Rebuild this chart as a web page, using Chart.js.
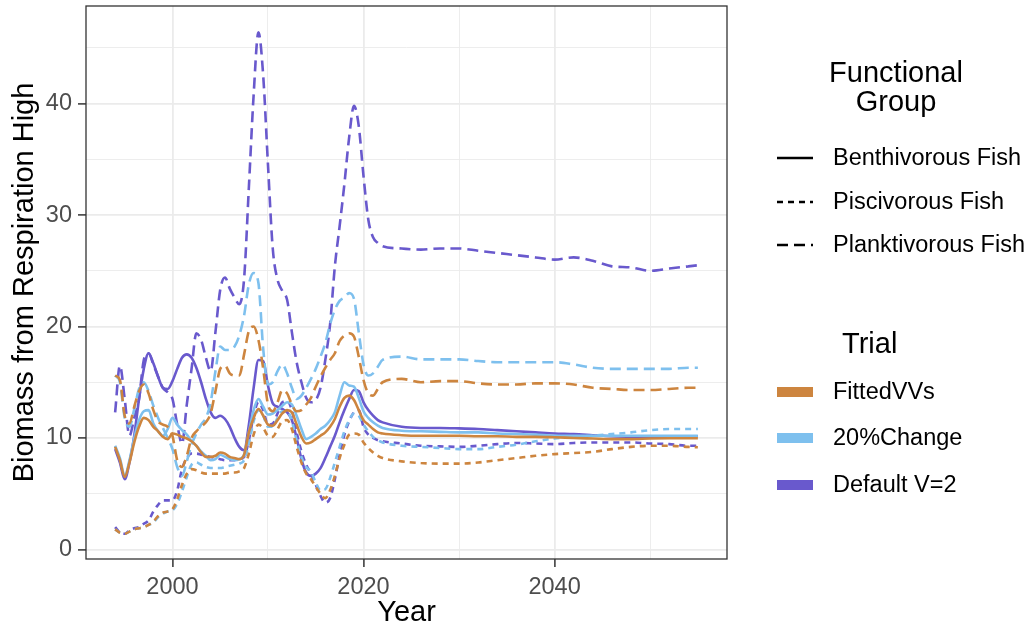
<!DOCTYPE html>
<html>
<head>
<meta charset="utf-8">
<script src="https://cdn.jsdelivr.net/npm/chart.js@4/dist/chart.umd.min.js"></script>
<style>
  html, body { margin: 0; padding: 0; background: #fff; }
  #wrap { width: 1030px; height: 630px; }
</style>
</head>
<body>
<div id="wrap"><canvas id="chart" width="1030" height="630"></canvas></div>
<script>
// time axis: half-year steps to 2022, then every two years
const years = [
  1994, 1994.5, 1995, 1995.5, 1996, 1996.5, 1997, 1997.5, 1998, 1998.5,
  1999, 1999.5, 2000, 2000.5, 2001, 2001.5, 2002, 2002.5, 2003, 2003.5,
  2004, 2004.5, 2005, 2005.5, 2006, 2006.5, 2007, 2007.5, 2008, 2008.5,
  2009, 2009.5, 2010, 2010.5, 2011, 2011.5, 2012, 2012.5, 2013, 2013.5,
  2014, 2014.5, 2015, 2015.5, 2016, 2016.5, 2017, 2017.5, 2018, 2018.5,
  2019, 2019.5, 2020, 2020.5, 2021, 2021.5, 2022,
  2024, 2026, 2028, 2030, 2032, 2034, 2036, 2038, 2040, 2042, 2044, 2046, 2048, 2050, 2052, 2054, 2055
];

// FittedVVs
const fittedBenth = [
  9.2, 8.0, 6.5, 7.8, 9.6, 11.0, 11.8, 11.6, 11.0, 10.6,
  10.1, 9.9, 10.4, 10.3, 10.1, 9.95, 9.7, 9.3, 8.7, 8.3,
  8.3, 8.4, 8.7, 8.6, 8.3, 8.2, 8.1, 8.5, 10.5, 11.8,
  12.6, 12.0, 11.2, 11.1, 11.6, 12.2, 12.5, 12.3, 11.2, 10.1,
  9.5, 9.6, 9.9, 10.2, 10.5, 11.0, 11.7, 12.8, 13.6, 13.8,
  13.4, 12.5, 11.6, 11.2, 10.8, 10.5, 10.4,
  10.25, 10.2, 10.2, 10.2, 10.15, 10.15, 10.1, 10.1, 10.06, 10.0, 9.95, 9.9, 9.9, 9.95, 9.97, 9.97, 9.97
];
const fittedPisc = [
  1.8, 1.5, 1.4, 1.6, 1.8, 1.9, 2.0, 2.2, 2.5, 3.0,
  3.3, 3.4, 3.6, 4.5, 5.8, 6.8, 7.2, 7.1, 6.9, 6.8,
  6.8, 6.8, 6.8, 6.8, 6.9, 6.9, 7.0, 7.3, 8.6, 10.3,
  11.2, 10.9, 10.2, 10.1, 10.8, 11.5, 11.6, 10.8, 9.2, 7.8,
  6.8, 6.3, 5.6, 5.0, 4.6, 5.3, 6.6, 8.2, 9.4, 10.3,
  10.4, 10.3, 9.6, 9.1, 8.7, 8.4, 8.2,
  7.9, 7.75, 7.7, 7.7, 7.8, 8.0, 8.2, 8.4, 8.55, 8.65, 8.75, 9.0, 9.2, 9.3, 9.3, 9.2, 9.17
];
const fittedPlank = [
  15.6, 15.2, 12.0, 11.3, 12.8, 14.2, 14.8, 14.0, 12.5, 11.5,
  11.2, 11.0, 10.2, 8.0, 7.4, 8.4, 10.0, 10.6, 11.0, 11.4,
  12.2, 14.2, 16.2, 16.5, 15.8, 15.6, 15.6, 17.5, 19.6, 20.0,
  18.8, 16.2, 13.0, 12.4, 13.2, 14.3, 14.0, 13.0, 12.4, 12.5,
  13.0, 13.6, 14.6, 15.5, 16.3, 17.0, 17.6, 18.7, 19.2, 19.4,
  19.1, 17.3, 15.2, 14.0, 13.8, 14.4, 15.0,
  15.3, 15.0, 15.1, 15.1, 14.9, 14.8, 14.8, 14.9, 14.9, 14.8, 14.5, 14.4, 14.3, 14.3, 14.4, 14.5, 14.5
];

// 20%Change
const changeBenth = [
  9.3, 8.2, 6.6, 8.0, 10.0, 11.6, 12.4, 12.5, 11.3, 10.6,
  10.2, 10.8, 11.8, 11.2, 10.7, 10.3, 9.7, 9.3, 8.8, 8.4,
  8.0, 8.1, 8.5, 8.3, 8.1, 8.0, 8.1, 8.5, 10.5, 12.5,
  13.5, 12.8, 12.1, 12.2, 12.5, 12.9, 13.2, 13.0, 12.0, 10.8,
  9.9, 10.1, 10.4, 10.8, 11.1, 11.6, 12.3, 13.8, 15.0, 14.7,
  14.6, 13.6, 12.4, 11.8, 11.4, 11.1, 10.9,
  10.65, 10.6, 10.55, 10.5, 10.5, 10.4, 10.35, 10.3, 10.2, 10.2, 10.2, 10.2, 10.2, 10.2, 10.2, 10.2, 10.2
];
const changePisc = [
  1.8, 1.5, 1.4, 1.6, 1.8, 1.9, 2.0, 2.2, 2.4, 2.9,
  3.2, 3.4, 3.5, 4.1, 5.2, 6.5, 7.6, 7.8, 7.6, 7.4,
  7.3, 7.3, 7.3, 7.4, 7.5, 7.6, 7.7, 8.0, 9.5, 11.5,
  12.5, 12.0, 11.0, 11.0, 11.8, 12.4, 12.4, 11.5, 9.8, 8.3,
  7.4, 7.0, 6.0, 5.3, 5.4, 6.4, 7.8, 9.2, 10.6, 11.6,
  12.2, 12.0, 11.2, 10.6, 10.1, 9.8, 9.6,
  9.3, 9.2, 9.1, 9.0, 9.0, 9.2, 9.4, 9.7, 9.95, 10.1, 10.2, 10.35, 10.5, 10.7, 10.8, 10.8, 10.8
];
const changePlank = [
  15.6, 15.0, 11.8, 11.0, 12.6, 14.4, 15.0, 14.2, 12.9, 11.8,
  10.9, 10.0, 9.0, 7.4, 6.6, 7.9, 9.4, 10.4, 11.2, 11.8,
  13.2, 16.0, 18.2, 17.9, 17.9, 18.2, 19.2, 21.0, 23.8, 24.8,
  23.9, 18.0, 14.8, 15.0, 16.0, 16.6, 15.8, 14.5, 13.5, 13.8,
  14.5, 15.3, 16.2, 17.3, 18.5, 20.2, 21.5, 22.3, 22.6, 23.0,
  22.5, 19.5, 16.6, 15.6, 15.8, 16.4, 17.0,
  17.3, 17.05, 17.05, 17.05, 16.9, 16.8, 16.8, 16.8, 16.8, 16.6, 16.3, 16.2, 16.2, 16.2, 16.2, 16.3, 16.3
];

// Default V=2
const defaultBenth = [
  9.0, 7.8, 6.3, 7.8, 10.2, 13.5, 16.2, 17.6, 16.7, 15.5,
  14.5, 14.4, 15.1, 16.2, 17.2, 17.5, 17.2, 16.3, 15.0, 13.5,
  12.3, 11.8, 12.0, 11.7, 11.0, 10.0, 9.2, 8.9, 11.2, 14.5,
  17.0, 16.9, 14.7, 13.1, 12.8, 12.6, 12.3, 11.6, 10.0, 8.1,
  6.9, 6.6, 6.8, 7.3, 8.2, 9.2, 10.2, 11.4, 12.5, 13.5,
  14.3, 14.2, 13.2, 12.5, 12.0, 11.6, 11.4,
  11.0, 10.9, 10.9, 10.86, 10.8, 10.7, 10.6, 10.5, 10.4, 10.35, 10.25, 10.15, 10.1, 10.06, 10.1, 10.15, 10.15
];
const defaultPisc = [
  2.0, 1.5, 1.4, 1.7, 1.9, 2.0, 2.3, 2.6, 3.4, 4.0,
  4.4, 4.4, 4.4, 5.3, 7.2, 8.2, 8.6, 8.6, 8.5, 8.4,
  8.3, 8.2, 8.1, 8.0, 8.0, 8.0, 8.1, 8.3, 9.8, 12.0,
  13.2, 12.5, 11.2, 11.3, 12.2, 13.2, 13.3, 12.5, 10.5, 8.8,
  7.6, 6.8, 5.8, 4.8, 4.2, 4.6, 6.3, 8.5, 10.3, 11.5,
  12.3, 12.5, 11.0, 10.3, 10.0, 9.8, 9.7,
  9.5, 9.3, 9.25, 9.2, 9.3, 9.45, 9.55, 9.5, 9.45, 9.55, 9.6, 9.6, 9.6, 9.5, 9.45, 9.3, 9.3
];
const defaultPlank = [
  12.3, 16.5, 13.5, 10.2, 11.8, 13.5, 17.0, 17.6, 16.6, 15.5,
  14.5, 14.1, 13.5, 11.2, 9.5, 13.0, 16.2, 19.4, 18.8, 17.2,
  16.0, 19.5, 23.3, 24.4, 23.4, 22.6, 22.0, 24.3, 32.5, 40.8,
  46.4, 42.5, 34.5, 27.0, 24.2, 23.2, 22.4, 19.5, 16.8, 15.0,
  13.6, 13.2, 13.4, 14.5, 17.0, 20.2, 25.4, 29.0, 32.8, 37.0,
  39.8, 38.0, 33.5, 29.6, 28.0, 27.5, 27.2,
  27.0, 26.9, 27.0, 27.0, 26.8, 26.6, 26.4, 26.2, 26.0, 26.2, 25.9, 25.4, 25.3, 25.0, 25.2, 25.4, 25.5
];

const groups = ['Benthivorous Fish', 'Piscivorous Fish', 'Planktivorous Fish'];
const trials = ['FittedVVs', '20%Change', 'Default V=2'];
const trialColors = ['#CD853F', '#7EC0EE', '#6959CD'];
const groupDash = [[], [6, 5], [11, 6]];

const FONT = '"Liberation Sans", Arial, Helvetica, sans-serif';

// [values, trial index, group index]
const seriesTable = [
  [fittedBenth, 0, 0], [fittedPisc, 0, 1], [fittedPlank, 0, 2],
  [changeBenth, 1, 0], [changePisc, 1, 1], [changePlank, 1, 2],
  [defaultBenth, 2, 0], [defaultPisc, 2, 1], [defaultPlank, 2, 2]
];

const datasets = seriesTable.map(([vals, t, g]) => ({
  label: trials[t] + ' ' + groups[g],
  data: years.map((x, i) => ({ x: x, y: vals[i] })),
  borderColor: trialColors[t],
  borderDash: groupDash[g],
  borderWidth: 2.6,
  pointRadius: 0,
  fill: false,
  cubicInterpolationMode: 'monotone'
}));

// panel border like theme_bw
const panelBorder = {
  id: 'panelBorder',
  afterDraw(chart) {
    const { ctx, chartArea: a } = chart;
    ctx.save();
    ctx.strokeStyle = '#333333';
    ctx.lineWidth = 1.3;
    ctx.strokeRect(a.left, a.top, a.right - a.left, a.bottom - a.top);
    ctx.restore();
  }
};

// two-part legend on the right: line types, then trial colours
const sideLegend = {
  id: 'sideLegend',
  afterDraw(chart) {
    const c = chart.ctx;
    const keyL = 777, keyR = 813, textX = 833;
    c.save();
    c.fillStyle = '#000';

    c.font = '23.5px ' + FONT;
    const gw = Math.max(...groups.map(s => c.measureText(s).width));
    const tw = Math.max(...trials.map(s => c.measureText(s).width));

    c.font = '29px ' + FONT;
    c.textAlign = 'center';
    c.textBaseline = 'alphabetic';
    const gx = (keyL + textX + gw) / 2 - 5;
    c.fillText('Functional', gx, 82);
    c.fillText('Group', gx, 111);
    c.fillText('Trial', (keyL + textX + tw) / 2, 353);

    c.font = '23.5px ' + FONT;
    c.textAlign = 'left';
    c.textBaseline = 'middle';
    const gy = [158, 202, 245];
    groups.forEach((g, i) => {
      c.strokeStyle = '#000';
      c.lineWidth = 2.6;
      c.setLineDash(groupDash[i]);
      c.beginPath();
      c.moveTo(keyL, gy[i]);
      c.lineTo(keyR, gy[i]);
      c.stroke();
      c.setLineDash([]);
      c.fillText(g, textX, gy[i] + 1);
    });
    const ty = [392, 438, 485];
    trials.forEach((t, i) => {
      c.fillStyle = trialColors[i];
      c.fillRect(keyL, ty[i] - 5, keyR - keyL, 10);
      c.fillStyle = '#000';
      c.fillText(t, textX, ty[i] + 1);
    });
    c.restore();
  }
};

const tickFont = { family: FONT, size: 23.5 };
const titleFont = { family: FONT, size: 29 };

new Chart(document.getElementById('chart'), {
  type: 'line',
  data: { datasets },
  plugins: [panelBorder, sideLegend],
  options: {
    responsive: false,
    animation: false,
    devicePixelRatio: 1,
    layout: { padding: { top: 6, right: 303, bottom: 0, left: 0 } },
    plugins: { legend: { display: false }, tooltip: { enabled: false } },
    scales: {
      x: {
        type: 'linear',
        min: 1990.95,
        max: 2058.05,
        afterFit: s => { s.height = 71; s.paddingLeft = 0; s.paddingRight = 0; },
        border: { display: false },
        grid: {
          color: '#EBEBEB',
          lineWidth: ctx => (ctx.tick && ctx.tick.value % 20 === 0 ? 1.8 : 0.9),
          tickLength: 8,
          tickWidth: 1.5,
          tickColor: ctx => (ctx.tick && ctx.tick.value % 20 === 0 ? '#333333' : 'rgba(0,0,0,0)')
        },
        ticks: {
          stepSize: 10,
          includeBounds: false,
          autoSkip: false,
          maxRotation: 0,
          padding: 6,
          color: '#4D4D4D',
          font: tickFont,
          callback: v => (v % 20 === 0 ? String(v) : '')
        },
        title: { display: true, text: 'Year', color: '#000', font: titleFont, padding: { top: 0, bottom: 0 } }
      },
      y: {
        type: 'linear',
        min: -0.86,
        max: 48.76,
        afterFit: s => { s.width = 86; s.paddingTop = 0; s.paddingBottom = 0; },
        border: { display: false },
        grid: {
          color: '#EBEBEB',
          lineWidth: ctx => (ctx.tick && ctx.tick.value % 10 === 0 ? 1.8 : 0.9),
          tickLength: 8,
          tickWidth: 1.5,
          tickColor: ctx => (ctx.tick && ctx.tick.value % 10 === 0 ? '#333333' : 'rgba(0,0,0,0)')
        },
        ticks: {
          stepSize: 5,
          includeBounds: false,
          padding: 6,
          color: '#4D4D4D',
          font: tickFont,
          callback: v => (v % 10 === 0 ? String(v) : '')
        },
        title: { display: true, text: 'Biomass from Respiration High', color: '#000', font: titleFont, padding: { top: 8, bottom: 0 } }
      }
    }
  }
});
</script>
</body>
</html>
